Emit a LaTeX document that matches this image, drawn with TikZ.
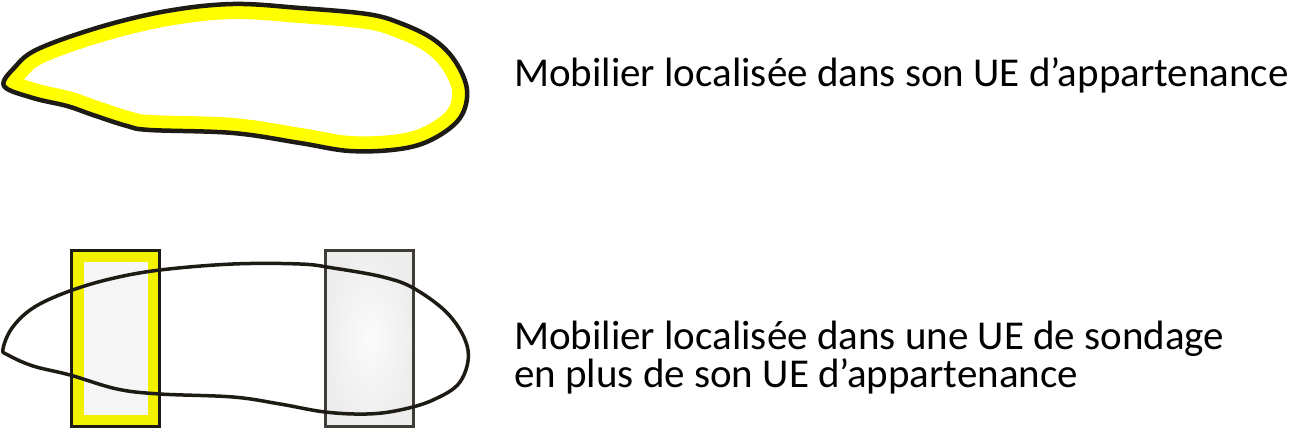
\documentclass[tikz,border=0pt]{standalone}
\usepackage{fontspec}
\setmainfont{Carlito}
\definecolor{lineblk}{HTML}{1E1A14}
\definecolor{ueyellow}{HTML}{F2F200}
\definecolor{blobyellow}{HTML}{FFFF00}
\definecolor{lightfill}{HTML}{F6F6F6}
\tikzset{
  blobline/.style={draw=lineblk, line width=#1, line join=round},
  uebox/.style={draw=lineblk, line width=3pt, inner sep=0pt, minimum width=88pt, minimum height=176pt},
  label/.style={anchor=base west, inner sep=0pt, align=left, font=\fontsize{41}{38}\selectfont}
}
\begin{document}
\begin{tikzpicture}[x=1pt,y=-1pt]
\useasboundingbox (0,0) rectangle (1299,430);
% top blob
\def\topblob{plot[smooth cycle, tension=0.6] coordinates {
 (4,86) (15,67) (38,49) (100,27) (167,11) (233,4) (300,8) (367,14) (400,23) (433,39) (455,61) (467,90) (460,118) (433,139) (400,149) (350,151) (300,143) (233,133) (150,130) (127,126) (93,115) (67,106) (33,98)}}
\begin{scope}
  \clip \topblob;
  \draw[blobyellow, line width=30pt] \topblob;
\end{scope}
\draw[blobline=4.5pt] \topblob;
% bottom boxes
\node[uebox, fill=ueyellow] (s1) at (115.5,338.5) {};
\node[inner sep=0pt, fill=lightfill, minimum width=64pt, minimum height=153pt] (s1in) at (s1.center) {};
\node[uebox, draw=lineblk!85, line width=2.5pt, inner color=white!97!gray, outer color=gray!14] (s2) at (369.5,338.5) {};
% bottom blob
\draw[blobline=3.5pt] plot[smooth cycle, tension=0.6] coordinates {
 (3,349) (12,328) (33,308) (67,292) (110,279) (160,270) (233,264) (300,264) (333,268) (383,277) (415,289) (450,316) (468,350) (460,382) (433,400) (400,410) (367,414) (325,412) (280,404) (233,397) (160,394) (117,389) (70,375) (33,366) (8,355)};
% texts
\node[label] (t1) at (514,87) {Mobilier localisée dans son UE d’appartenance};
\node[label] (t2) at (514,388) {Mobilier localisée dans une UE de sondage\\en plus de son UE d’appartenance};
\end{tikzpicture}
\end{document}
